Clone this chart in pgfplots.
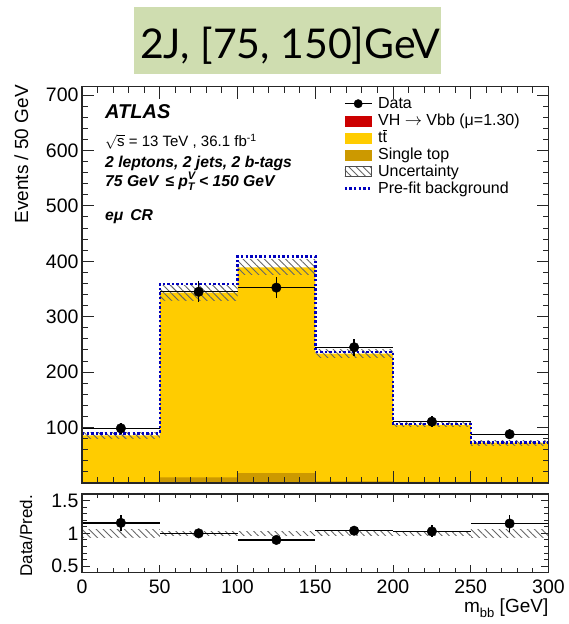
\documentclass[border=0pt]{standalone}
\usepackage{pgfplots}
\pgfplotsset{compat=1.18}
\usepackage{fontspec}
\setmainfont{Liberation Sans}
\newfontfamily\titlefont{Lato}
\usetikzlibrary{patterns.meta}

\definecolor{ttyellow}{RGB}{255,204,0}
\definecolor{stopgold}{RGB}{204,153,0}
\definecolor{vhred}{RGB}{204,0,0}
\definecolor{prefitblue}{RGB}{0,0,190}
\definecolor{titlegreen}{RGB}{207,221,176}
\definecolor{smallgreen}{RGB}{0,120,0}

\tikzset{
  unchatch/.style={pattern={Lines[angle=-45,distance=5pt,line width=0.9pt]},pattern color=black!60},
}
% every legend image shares the same footprint (bounding box only, nothing drawn)
\newcommand\legframe{\pgfpathrectangle{\pgfpoint{0pt}{-6pt}}{\pgfpoint{26.7pt}{12pt}}\pgfusepath{use as bounding box}}

\pgfplotsset{
  atlas/.style={
    scale only axis, width=466.5pt, xmin=0, xmax=300,
    tick align=inside, tick pos=both,
    axis line style={black!85, line width=1.1pt},
    every tick/.style={black!85, line width=1pt},
    minor x tick num=4, minor y tick num=4,
    /pgf/number format/assume math mode=true,
    ticklabel style={font=\fontsize{19.5}{20}\selectfont},
    xtick={0,50,...,300},
    axis on top,
  },
}
\newcommand\infofont{\fontsize{15.7}{18}\selectfont\bfseries\itshape}
\newcommand\legfont{\fontsize{16}{17}\selectfont}

\begin{document}
\begin{tikzpicture}
\path[use as bounding box] (0pt,0pt) rectangle (568pt,624pt);

% title banner
\fill[titlegreen] (134pt,550pt) rectangle (440.7pt,616.5pt);
\node[anchor=base west, inner sep=0pt, font=\titlefont\fontsize{41}{41}\selectfont] at (140pt,565.7pt) {2J, [75, 150]GeV};

% ---------------- main panel ----------------
\begin{axis}[atlas, at={(82pt,141pt)}, anchor=south west, height=396.3pt,
  ymin=0, ymax=715, ytick={0,100,...,700}, yticklabels={,100,200,300,400,500,600,700},
  xticklabels={},
  major tick length=12pt, minor tick length=6pt,
  legend style={draw=none, fill=none, at={(0.5635,0.976)}, anchor=north west,
    font=\legfont, row sep=2pt, inner sep=0pt, outer sep=0pt,
    nodes={inner sep=0pt, text height=12pt, text depth=3pt},
    /tikz/every odd column/.append style={column sep=6.5pt}},
  legend cell align=left]

% stacked backgrounds (total on top = ttbar)
\addplot[forget plot, const plot, fill=ttyellow, draw=none]
  coordinates {(0,85.7)(50,343.6)(100,389)(150,233.6)(200,105)(250,73)(300,73)} \closedcycle;
\addplot[forget plot, const plot, fill=stopgold, draw=none]
  coordinates {(0,1.5)(50,10)(100,18)(150,3)(200,2)(250,1.5)(300,1.5)} \closedcycle;
\addplot[forget plot, const plot, fill=smallgreen, draw=none]
  coordinates {(0,0)(100,1.5)(150,0)(300,0)} \closedcycle;

% uncertainty band
\addplot[forget plot, draw=none, unchatch] coordinates {(0,80.7)(50,80.7)(50,90.7)(0,90.7)};
\addplot[forget plot, draw=none, unchatch] coordinates {(50,330.1)(100,330.1)(100,357.1)(50,357.1)};
\addplot[forget plot, draw=none, unchatch] coordinates {(100,375.5)(150,375.5)(150,402.5)(100,402.5)};
\addplot[forget plot, draw=none, unchatch] coordinates {(150,227.1)(200,227.1)(200,240.1)(150,240.1)};
\addplot[forget plot, draw=none, unchatch] coordinates {(200,101.4)(250,101.4)(250,108.6)(200,108.6)};
\addplot[forget plot, draw=none, unchatch] coordinates {(250,68.5)(300,68.5)(300,77.5)(250,77.5)};

% pre-fit background
\addplot[forget plot, const plot, prefitblue, line width=2.5pt, dash pattern=on 2.4pt off 2.2pt]
  coordinates {(0,89.6)(50,359)(100,408.5)(150,236)(200,106.5)(250,72.7)(300,72.7)};

% data
\addplot[forget plot, only marks, mark=*, mark size=4.8pt, black,
  error bars/.cd, x dir=both, x explicit, y dir=both, y explicit,
  error bar style={line width=1.4pt, black}, error mark=none]
  coordinates {
    (25,98.7)  +- (25,9.9)
    (75,345)   +- (25,18.6)
    (125,352.5) +- (25,18.8)
    (175,245)  +- (25,15.7)
    (225,110.7) +- (25,10.5)
    (275,88)   +- (25,9.4)
  };

% legend
\addlegendimage{legend image code/.code={\legframe\draw[black,line width=1.4pt] (0pt,0pt)--(26.7pt,0pt); \fill[black] (13.3pt,0pt) circle (4.2pt);}}
\addlegendentry{Data}
\addlegendimage{legend image code/.code={\legframe\fill[vhred] (0pt,-5pt) rectangle (26.7pt,5pt);}}
\addlegendentry{VH $\rightarrow$ Vbb (μ=1.30)}
\addlegendimage{legend image code/.code={\legframe\fill[ttyellow] (0pt,-5pt) rectangle (26.7pt,5pt);}}
\addlegendentry{t\ensuremath{\overline{\mbox{t}}}}
\addlegendimage{legend image code/.code={\legframe\fill[stopgold] (0pt,-5pt) rectangle (26.7pt,5pt);}}
\addlegendentry{Single top}
\addlegendimage{legend image code/.code={\legframe\draw[black!70, line width=0.6pt, unchatch] (0pt,-5pt) rectangle (26.7pt,5pt);}}
\addlegendentry{Uncertainty}
\addlegendimage{legend image code/.code={\legframe\draw[prefitblue, line width=2.5pt, dash pattern=on 2.4pt off 2.2pt] (0pt,0pt)--(26.7pt,0pt);}}
\addlegendentry{Pre-fit background}

% labels
\node[anchor=base west, inner sep=0pt, font=\fontsize{20}{22}\selectfont\bfseries\itshape] at (rel axis cs:0.0493,0.9202) {ATLAS};
\node[anchor=base west, inner sep=0pt, font=\fontsize{15}{18}\selectfont] at (rel axis cs:0.0493,0.8486) {\ensuremath{\sqrt{\mbox{s}}} = 13 TeV , 36.1 fb\textsuperscript{-1}};
\node[anchor=base west, inner sep=0pt, font=\infofont] at (rel axis cs:0.0493,0.7966) {2 leptons, 2 jets, 2 b-tags};
\node[anchor=base west, inner sep=0pt, font=\infofont] at (rel axis cs:0.0493,0.7494) {75 GeV \,≤ p\rlap{\raisebox{0.75ex}{\fontsize{11}{11}\selectfont V}}\raisebox{-0.6ex}{\fontsize{11}{11}\selectfont T} {<} 150 GeV};
\node[anchor=base west, inner sep=0pt, font=\infofont] at (rel axis cs:0.0493,0.6619) {eμ\, CR};
\end{axis}

% ---------------- ratio panel ----------------
\begin{axis}[atlas, at={(82pt,51.3pt)}, anchor=south west, height=78.7pt,
  ymin=0.4, ymax=1.6, ytick={0.5,1,1.5},
  major tick length=8pt, minor tick length=4.5pt,
  xticklabel style={yshift=-3.5pt}]

\addplot[draw=none, unchatch] coordinates {(0,0.942)(50,0.942)(50,1.058)(0,1.058)};
\addplot[draw=none, unchatch] coordinates {(50,0.972)(100,0.972)(100,1.028)(50,1.028)};
\addplot[draw=none, unchatch] coordinates {(100,0.965)(150,0.965)(150,1.035)(100,1.035)};
\addplot[draw=none, unchatch] coordinates {(150,0.972)(200,0.972)(200,1.028)(150,1.028)};
\addplot[draw=none, unchatch] coordinates {(200,0.966)(250,0.966)(250,1.034)(200,1.034)};
\addplot[draw=none, unchatch] coordinates {(250,0.938)(300,0.938)(300,1.062)(250,1.062)};

\addplot[only marks, mark=*, mark size=4.8pt, black,
  error bars/.cd, x dir=both, x explicit, y dir=both, y explicit,
  error bar style={line width=1.4pt, black}, error mark=none]
  coordinates {
    (25,1.16)  +- (25,0.12)
    (75,1.00)  +- (25,0.055)
    (125,0.90) +- (25,0.05)
    (175,1.04) +- (25,0.065)
    (225,1.03) +- (25,0.09)
    (275,1.15) +- (25,0.13)
  };
\end{axis}

% axis titles
\node[rotate=90, anchor=base east, inner sep=0pt, font=\fontsize{19}{20}\selectfont] at (28pt,539pt) {Events / 50 GeV};
\node[rotate=90, anchor=base east, inner sep=0pt, font=\fontsize{17}{18}\selectfont] at (32pt,129pt) {Data/Pred.};
\node[anchor=base east, inner sep=0pt, font=\fontsize{19}{20}\selectfont] at (548.5pt,11pt) {m\raisebox{-0.45ex}{\fontsize{13}{13}\selectfont bb} [GeV]};
\end{tikzpicture}
\end{document}
